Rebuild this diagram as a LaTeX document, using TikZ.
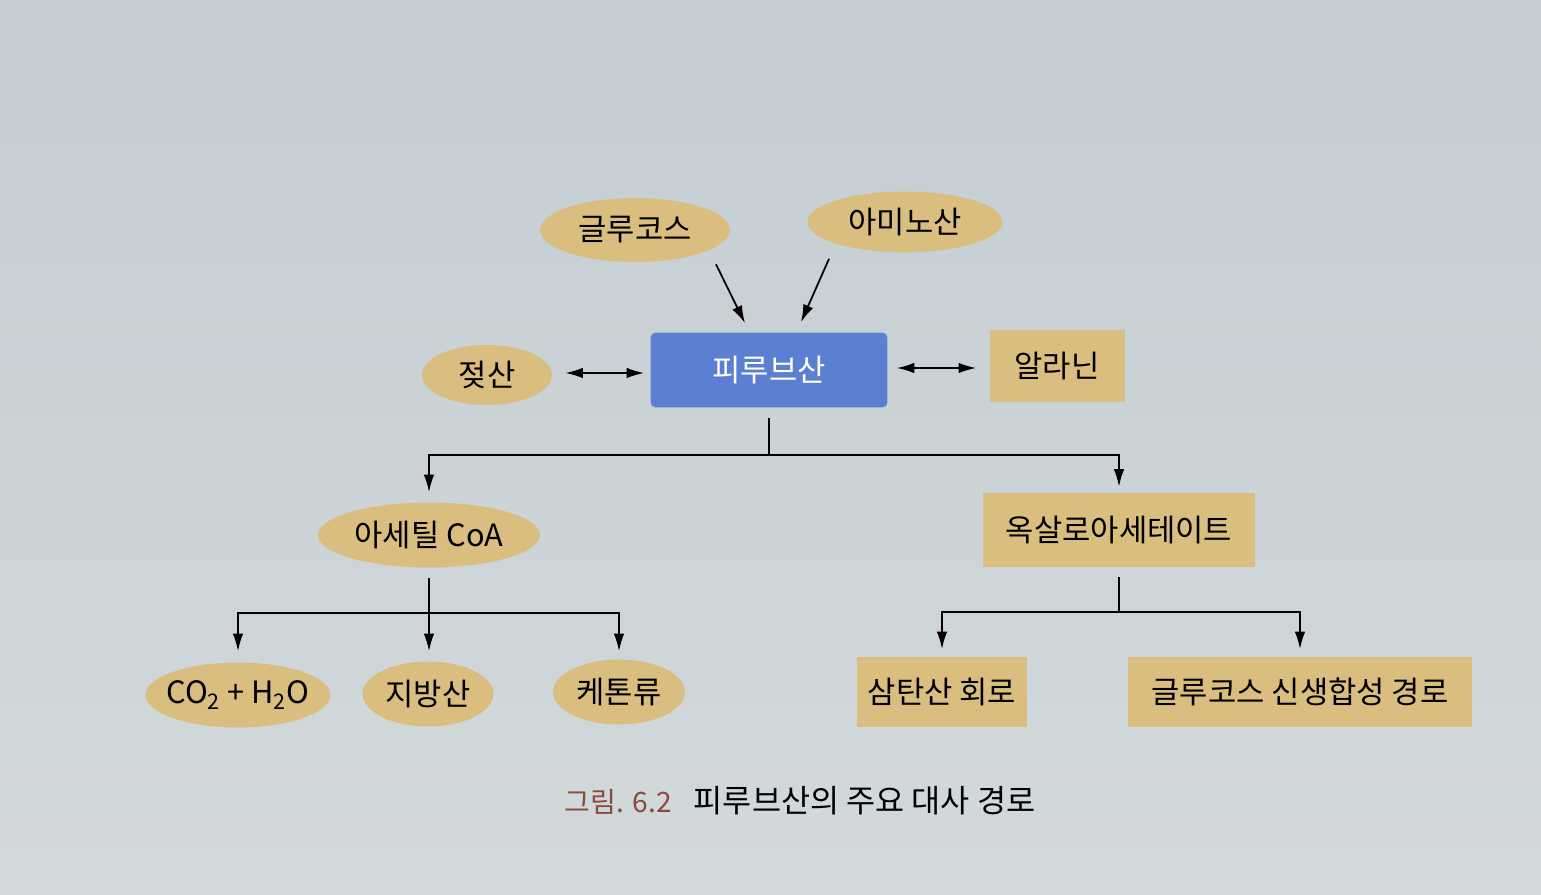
\documentclass[tikz,border=0pt]{standalone}
\usepackage{fontspec}
\setmainfont{Noto Sans CJK KR}
\usetikzlibrary{shapes,arrows.meta,calc}
\definecolor{paper}{HTML}{CDD5D9}
\definecolor{papertop}{HTML}{C3CDD2}
\definecolor{paperbot}{HTML}{D3D9DB}
\definecolor{tanfill}{HTML}{D9BE80}
\definecolor{pyrblue}{HTML}{5B80D2}
\definecolor{capred}{HTML}{8A4A3C}

\begin{document}
\begin{tikzpicture}
  [x=0.02cm,y=-0.02cm,
   ovalN/.style={ellipse,fill=tanfill,inner sep=-10pt,font=\fontsize{17.5}{20}\selectfont},
   boxN/.style={rectangle,fill=tanfill,inner sep=0pt,font=\fontsize{17.5}{20}\selectfont},
   pyrN/.style={rectangle,rounded corners=3pt,fill=pyrblue,text=white,inner sep=0pt,
     font=\fontsize{17.5}{20}\selectfont},
   lineC/.style={line width=1pt},
   arrC/.style={-{Latex[length=10pt,width=6pt]},line width=1pt},
   dblC/.style={{Latex[length=10pt,width=6pt]}-{Latex[length=10pt,width=6pt]},line width=1pt}]

  \shade[top color=papertop,bottom color=paperbot] (0,0) rectangle (1541,895);
  \useasboundingbox (0,0) rectangle (1541,895);

  % top row
  \node[ovalN,minimum width=3.8cm,minimum height=1.28cm] (glu) at (635,230) {글루코스};
  \node[ovalN,minimum width=3.9cm,minimum height=1.22cm] (ami) at (905,222) {아미노산};

  % pyruvate row
  \node[pyrN,minimum width=4.74cm,minimum height=1.5cm] (pyr) at (769,370) {피루브산};
  \node[ovalN,minimum width=2.6cm,minimum height=1.2cm] (lac) at (487,375) {젖산};
  \node[boxN,minimum width=2.7cm,minimum height=1.46cm] (ala) at (1057,366) {알라닌};

  \draw[arrC] ($(glu.south)+(81,2)$) -- ($(pyr.north)+(-24,-9)$);
  \draw[arrC] ($(ami.south)+(-76,6)$) -- ($(pyr.north)+(32,-10)$);
  \draw[dblC] ($(lac.east)+(13,-2)$) -- ($(pyr.west)+(-6,3)$);
  \draw[dblC] ($(pyr.east)+(9,-2)$) -- ($(ala.west)+(-13,2)$);

  % second level
  \node[ovalN,minimum width=4.44cm,minimum height=1.3cm] (acoa) at (429,535) {아세틸 CoA};
  \node[boxN,minimum width=5.44cm,minimum height=1.48cm] (oaa) at (1119,530) {옥살로아세테이트};

  \draw[lineC] ($(pyr.south)+(0,10)$) -- ++(0,37) coordinate (pj);
  \draw[arrC] (pj) -| ($(acoa.north)+(0,-10)$);
  \draw[arrC] (pj) -| ($(oaa.north)+(0,-6)$);

  % third level
  \node[ovalN,minimum width=3.7cm,minimum height=1.3cm] (co2) at (238,695) {CO\textsubscript{2} + H\textsubscript{2}O};
  \node[ovalN,minimum width=2.62cm,minimum height=1.3cm] (fat) at (428,694) {지방산};
  \node[ovalN,minimum width=2.64cm,minimum height=1.3cm] (ket) at (619,692) {케톤류};
  \node[boxN,minimum width=3.4cm,minimum height=1.42cm] (tca) at (942,692) {삼탄산 회로};
  \node[boxN,minimum width=6.88cm,minimum height=1.42cm] (gng) at (1300,692) {글루코스 신생합성 경로};

  \draw[lineC] ($(acoa.south)+(0,10)$) -- ++(0,35) coordinate (aj);
  \draw[arrC] (aj) -| ($(co2.north)+(0,-11)$);
  \draw[arrC] (aj) -- ($(aj|-fat.north)+(0,-10)$);
  \draw[arrC] (aj) -| ($(ket.north)+(0,-8)$);

  \draw[lineC] ($(oaa.south)+(0,10)$) -- ++(0,35) coordinate (oj);
  \draw[arrC] (oj) -| ($(tca.north)+(0,-7)$);
  \draw[arrC] (oj) -| ($(gng.north)+(0,-7)$);

  % caption
  \node[font=\fontsize{18}{21}\selectfont] (cap) at (800,801)
    {{\color{capred}\fontsize{16}{19}\selectfont 그림. 6.2}\hspace{0.7em}피루브산의 주요 대사 경로};

\end{tikzpicture}
\end{document}
